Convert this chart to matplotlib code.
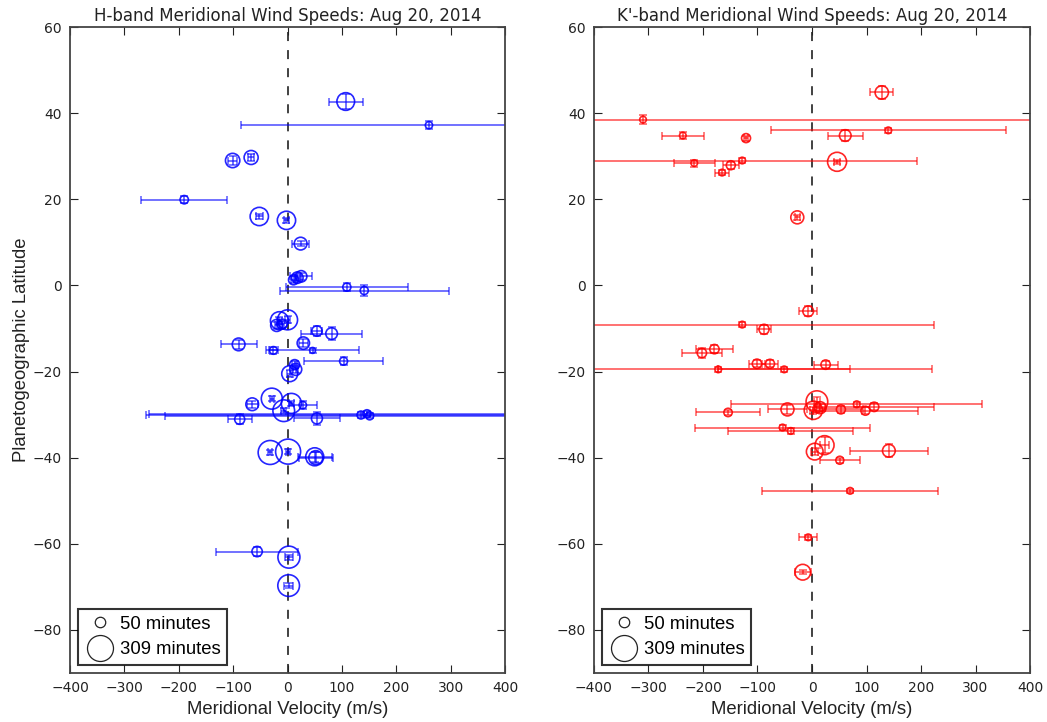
import matplotlib
matplotlib.use('Agg')
import matplotlib.pyplot as plt
from matplotlib.lines import Line2D
import numpy as np

# H-band measurements: latitude (deg), meridional velocity (m/s), errors, integration time (min)
h_lat = [42.7, 37.2, 29.0, 29.7, 19.9, 16.0, 15.1, 9.7, 1.3, 1.8, 2.1, -0.4, -1.2,
         -8.0, -8.2, -9.3, -9.0, -10.6, -11.2, -13.7, -13.4, -15.1, -15.1, -17.6,
         -18.4, -19.5, -20.5, -26.3, -27.6, -27.4, -29.1, -27.8, -30.1, -29.8, -30.3,
         -31.1, -30.9, -38.8, -38.6, -39.8, -40.0, -61.8, -63.1, -69.7]
h_vel = [107, 260, -101, -67, -190, -52, -2, 24, 11, 18, 25, 109, 141,
         0, -15, -20, -10, 54, 81, -90, 29, -26, 46, 103,
         13, 15, 4, -29, -65, 7, -7, 28, 135, 146, 151,
         -88, 54, -32, 1, 50, 52, -56, 2.5, 2]
h_verr = [31, 345, 8, 5, 79, 6, 5, 15, 5, 5, 20, 112, 155,
          4, 4, 4, 4, 10, 56, 33, 8, 8, 86, 72,
          5, 5, 5, 4, 10, 5, 5, 26, 395, 400, 377,
          22, 42, 4, 4, 31, 31, 75, 8, 8]
h_laterr = [1.8, 1.0, 1.0, 0.8, 0.8, 0.6, 0.6, 0.6, 0.8, 0.8, 0.8, 1.0, 1.2,
            0.8, 0.8, 0.8, 0.8, 1.2, 1.5, 1.0, 1.0, 0.8, 0.6, 1.0,
            0.8, 0.8, 0.8, 0.6, 0.8, 0.6, 0.6, 1.0, 0.6, 0.6, 0.6,
            1.2, 1.5, 0.6, 0.6, 1.2, 1.2, 1.0, 0.6, 0.6]
h_min = [143, 24, 94, 90, 32, 153, 153, 74, 46, 60, 60, 30, 30,
         183, 148, 66, 46, 49, 62, 74, 70, 27, 16, 29,
         46, 66, 117, 201, 74, 183, 215, 25, 29, 29, 29,
         46, 55, 263, 286, 148, 90, 49, 221, 215]

# K'-band measurements
k_lat = [44.8, 38.5, 34.8, 34.2, 36.0, 34.8, 28.4, 29.0, 27.9, 26.2, 28.7, 15.8,
         -6.0, -9.1, -10.2, -15.7, -14.8, -19.5, -19.5, -18.2, -18.2, -18.4,
         -27.0, -29.0, -28.4, -28.8, -29.5, -28.8, -27.6, -29.1, -28.2,
         -33.0, -33.8, -37.1, -38.6, -38.4, -40.6, -47.7, -58.5, -66.6]
k_vel = [128, -310, -237, -121, 140, 61, -216, -128, -149, -165, 46, -27,
         -7, -128, -88, -202, -179, -172, -51, -101, -77, 25,
         9, 2.5, 15, -45, -154, 53, 82, 98, 114,
         -54, -39, 23, 5, 141, 51, 70, -7, -17]
k_verr = [21, 800, 39, 3, 215, 32, 38, 320, 15, 13, 5, 5,
          17, 351, 12, 37, 34, 392, 121, 15, 15, 22,
          6, 6, 8, 35, 59, 40, 230, 97, 109,
          160, 115, 8, 6, 72, 37, 161, 17, 15]
k_laterr = [1.5, 1.0, 0.8, 0.6, 0.6, 1.2, 0.8, 0.6, 0.8, 0.6, 0.5, 0.5,
            1.2, 0.6, 1.0, 1.2, 1.0, 0.6, 0.6, 0.8, 0.8, 0.8,
            1.0, 0.8, 0.8, 1.0, 0.6, 0.8, 0.6, 0.8, 0.8,
            0.6, 0.6, 1.8, 0.8, 1.5, 0.6, 0.5, 0.6, 0.5]
k_min = [81, 20, 20, 37, 20, 62, 20, 20, 37, 20, 165, 77,
         52, 20, 46, 40, 40, 20, 20, 40, 37, 40,
         215, 153, 66, 77, 32, 37, 20, 37, 40,
         20, 20, 165, 127, 74, 29, 20, 20, 113]

legend_minutes = [50, 309]
size_per_minute = 1.133  # marker area (pt^2) per minute of integration

plt.rcParams['font.family'] = 'DejaVu Sans'


def draw_panel(ax, lat, vel, verr, laterr, minutes, color, title):
    ax.errorbar(vel, lat, xerr=verr, yerr=laterr, fmt='none', ecolor=color,
                elinewidth=1.3, capsize=3, capthick=1.2, alpha=0.6, zorder=2)
    ax.scatter(vel, lat, s=np.array(minutes) * size_per_minute, facecolors='none',
               edgecolors=color, linewidths=1.2, alpha=0.85, zorder=3)
    ax.axvline(0, color='#333333', linestyle='--', linewidth=1.3, dashes=(5, 5), zorder=1)
    ax.set_xlim(-400, 400)
    ax.set_ylim(-90, 60)
    ax.set_xticks(np.arange(-400, 401, 100))
    ax.set_yticks(np.arange(-80, 61, 20))
    ax.tick_params(direction='in', top=True, right=True, length=6, width=0.8,
                   labelsize=10, colors='#222222', pad=6)
    for sp in ax.spines.values():
        sp.set_color('#444444')
        sp.set_linewidth(1.3)
    ax.set_title(title, fontsize=12, pad=4, color='#222222')
    ax.set_xlabel('Meridional Velocity (m/s)', family='Liberation Sans', fontsize=13.3,
                  color='#222222', labelpad=4)

    handles = [Line2D([], [], linestyle='none', marker='o', markerfacecolor='none',
                      markeredgecolor='#222222', markeredgewidth=0.9,
                      markersize=np.sqrt(m * size_per_minute))
               for m in legend_minutes]
    leg = ax.legend(handles, ['%d minutes' % m for m in legend_minutes], loc='lower left',
                    prop={'family': 'Liberation Sans', 'size': 13.3}, frameon=True,
                    fancybox=False, handletextpad=0.3, handlelength=1.6,
                    borderpad=0.35, labelspacing=0.45, borderaxespad=0.45)
    leg.get_frame().set_edgecolor('black')
    leg.get_frame().set_linewidth(1.5)


fig = plt.figure(figsize=(10.47, 7.22), dpi=100)
ax1 = fig.add_axes([0.0669, 0.0679, 0.4155, 0.8947])
ax2 = fig.add_axes([0.5673, 0.0679, 0.4165, 0.8947])

draw_panel(ax1, h_lat, h_vel, h_verr, h_laterr, h_min, 'blue',
           'H-band Meridional Wind Speeds: Aug 20, 2014')
draw_panel(ax2, k_lat, k_vel, k_verr, k_laterr, k_min, 'red',
           "K'-band Meridional Wind Speeds: Aug 20, 2014")
ax1.set_ylabel('Planetogeographic Latitude', family='Liberation Sans', fontsize=13.3,
               color='#222222', labelpad=2)

fig.savefig('out.png', dpi=100)
